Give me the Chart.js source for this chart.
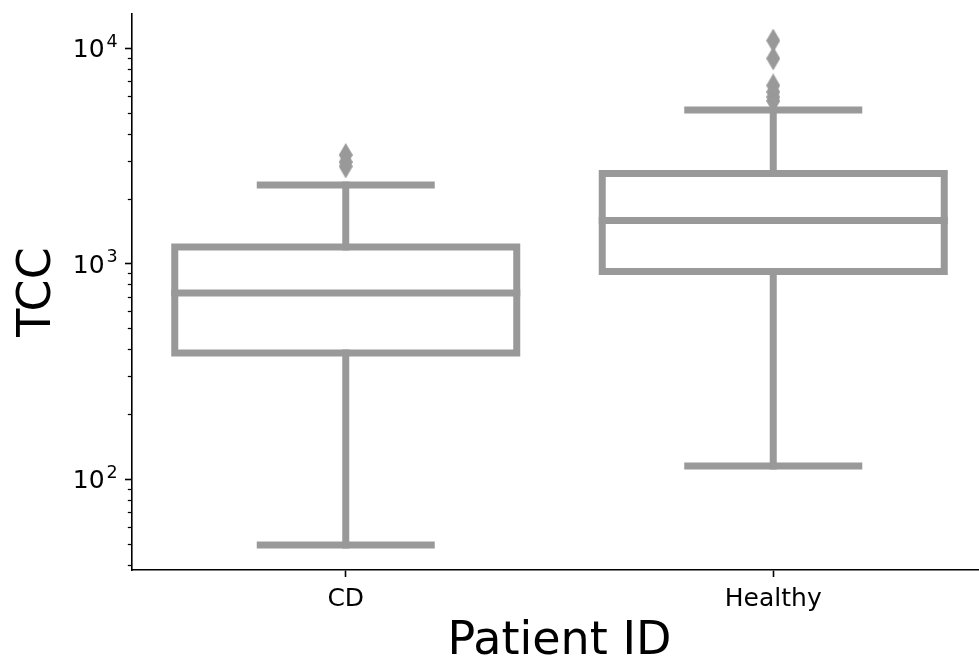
<!DOCTYPE html>
<html>
<head>
<meta charset="utf-8">
<script src="https://cdn.jsdelivr.net/npm/chart.js@4.4.0/dist/chart.umd.min.js"></script>
<style>
  html, body { margin: 0; padding: 0; background: #ffffff; overflow: hidden; }
  #wrap { position: relative; width: 992px; height: 667px; }
</style>
</head>
<body>
<div id="wrap"><canvas id="chart" width="992" height="667"></canvas></div>
<script>
// Box summaries of TCC per group (log axis)
const categories = ['CD', 'Healthy'];
const whiskerLow = [49.4, 115];
const quartile1 = [384, 918];
const medians = [730, 1583];
const quartile3 = [1193, 2616];
const whiskerHigh = [2312, 5154];
const outliersCD = [2820, 2960, 3190];
const outliersHealthy = [5680, 5924, 6250, 6700, 8940, 10835];

// Y axis ticks
const yMajorTicks = [100, 1000, 10000];
const yTickBase = '10';
const yTickExponents = ['2', '3', '4'];
const yMinorTicks = [40, 50, 60, 70, 80, 90,
  200, 300, 400, 500, 600, 700, 800, 900,
  2000, 3000, 4000, 5000, 6000, 7000, 8000, 9000];

const FONT = "'DejaVu Sans', 'Liberation Sans', sans-serif";
const INK = '#000000';
const GRAY = '#999999';
const LINE_W = 7;
const HALF_BOX = 0.4;
const HALF_CAP = 0.2;
const TICK_FONT = 25;
const TITLE_FONT = 46;

// thin diamond marker for fliers
const diamond = document.createElement('canvas');
diamond.width = 14; diamond.height = 24;
(function () {
  const g = diamond.getContext('2d');
  g.fillStyle = GRAY;
  g.beginPath();
  g.moveTo(7, 0); g.lineTo(14, 12); g.lineTo(7, 24); g.lineTo(0, 12);
  g.closePath(); g.fill();
})();

function stroke(points) {
  return {
    type: 'line',
    data: points,
    borderColor: GRAY,
    borderWidth: LINE_W,
    borderCapStyle: 'square',
    borderJoinStyle: 'miter',
    pointRadius: 0,
    fill: false,
    tension: 0,
    clip: false
  };
}

const datasets = [];
categories.forEach((name, i) => {
  // box
  datasets.push(stroke([
    { x: i - HALF_BOX, y: quartile1[i] }, { x: i + HALF_BOX, y: quartile1[i] },
    { x: i + HALF_BOX, y: quartile3[i] }, { x: i - HALF_BOX, y: quartile3[i] },
    { x: i - HALF_BOX, y: quartile1[i] }
  ]));
  // median
  datasets.push(stroke([{ x: i - HALF_BOX, y: medians[i] }, { x: i + HALF_BOX, y: medians[i] }]));
  // whiskers
  datasets.push(stroke([{ x: i, y: quartile1[i] }, { x: i, y: whiskerLow[i] }]));
  datasets.push(stroke([{ x: i, y: quartile3[i] }, { x: i, y: whiskerHigh[i] }]));
  // caps
  datasets.push(stroke([{ x: i - HALF_CAP, y: whiskerLow[i] }, { x: i + HALF_CAP, y: whiskerLow[i] }]));
  datasets.push(stroke([{ x: i - HALF_CAP, y: whiskerHigh[i] }, { x: i + HALF_CAP, y: whiskerHigh[i] }]));
});
[outliersCD, outliersHealthy].forEach((vals, i) => {
  datasets.push({
    type: 'scatter',
    data: vals.map(v => ({ x: i, y: v })),
    pointStyle: diamond,
    backgroundColor: GRAY,
    borderColor: GRAY,
    clip: false
  });
});

// minor ticks and power-of-ten labels on the log axis
const logAxisPlugin = {
  id: 'logAxis',
  afterDraw(chart) {
    const y = chart.scales.y;
    const ctx = chart.ctx;
    ctx.save();
    ctx.strokeStyle = INK;
    ctx.lineWidth = 1.25;
    const x0 = y.right;
    yMinorTicks.forEach(v => {
      const py = Math.round(y.getPixelForValue(v)) + 0.5;
      ctx.beginPath();
      ctx.moveTo(x0, py);
      ctx.lineTo(x0 - 4.2, py);
      ctx.stroke();
    });
    ctx.fillStyle = INK;
    ctx.textBaseline = 'alphabetic';
    ctx.textAlign = 'right';
    const right = x0 - 7 - 7.3;
    yMajorTicks.forEach((v, k) => {
      const baseline = y.getPixelForValue(v) + 9;
      ctx.font = (TICK_FONT * 0.7) + 'px ' + FONT;
      const ew = ctx.measureText(yTickExponents[k]).width;
      ctx.fillText(yTickExponents[k], right, baseline - 10.5);
      ctx.font = TICK_FONT + 'px ' + FONT;
      ctx.fillText(yTickBase, right - ew - 2, baseline);
    });
    ctx.restore();
  }
};

new Chart(document.getElementById('chart'), {
  type: 'scatter',
  data: { datasets },
  plugins: [logAxisPlugin],
  options: {
    responsive: false,
    animation: false,
    events: [],
    layout: { padding: { top: 14, right: 0, bottom: 0, left: 0 } },
    plugins: { legend: { display: false }, tooltip: { enabled: false } },
    scales: {
      x: {
        type: 'linear',
        min: -0.5,
        max: 1.5,
        afterBuildTicks: s => { s.ticks = categories.map((_, i) => ({ value: i })); },
        afterFit: s => { s.height = 97; },
        ticks: {
          callback: v => categories[v] ?? '',
          font: { family: FONT, size: TICK_FONT },
          color: INK,
          padding: 7,
          maxRotation: 0,
          autoSkip: false
        },
        grid: { drawOnChartArea: false, drawTicks: true, tickLength: 7, tickColor: INK, tickWidth: 1.6 },
        border: { display: true, color: INK, width: 1.6 },
        title: { display: true, text: 'Patient ID', color: INK, font: { family: FONT, size: TITLE_FONT }, padding: { top: 0, bottom: -3 } }
      },
      y: {
        type: 'logarithmic',
        min: 37.83,
        max: 14382,
        afterBuildTicks: s => {
          s.ticks = yMinorTicks.map(v => ({ value: v, major: false }))
            .concat(yMajorTicks.map(v => ({ value: v, major: true })))
            .sort((a, b) => a.value - b.value);
        },
        afterFit: s => { s.width = 132; },
        ticks: { display: false, major: { enabled: false }, autoSkip: false },
        grid: {
          drawOnChartArea: false, drawTicks: true, tickLength: 7,
          tickColor: c => (c.tick && c.tick.major) ? INK : 'rgba(0,0,0,0)',
          tickWidth: 1.6
        },
        border: { display: true, color: INK, width: 1.6 },
        title: { display: true, text: 'TCC', color: INK, font: { family: FONT, size: TITLE_FONT }, padding: { top: 10, bottom: 0 } }
      }
    }
  }
});
</script>
</body>
</html>
